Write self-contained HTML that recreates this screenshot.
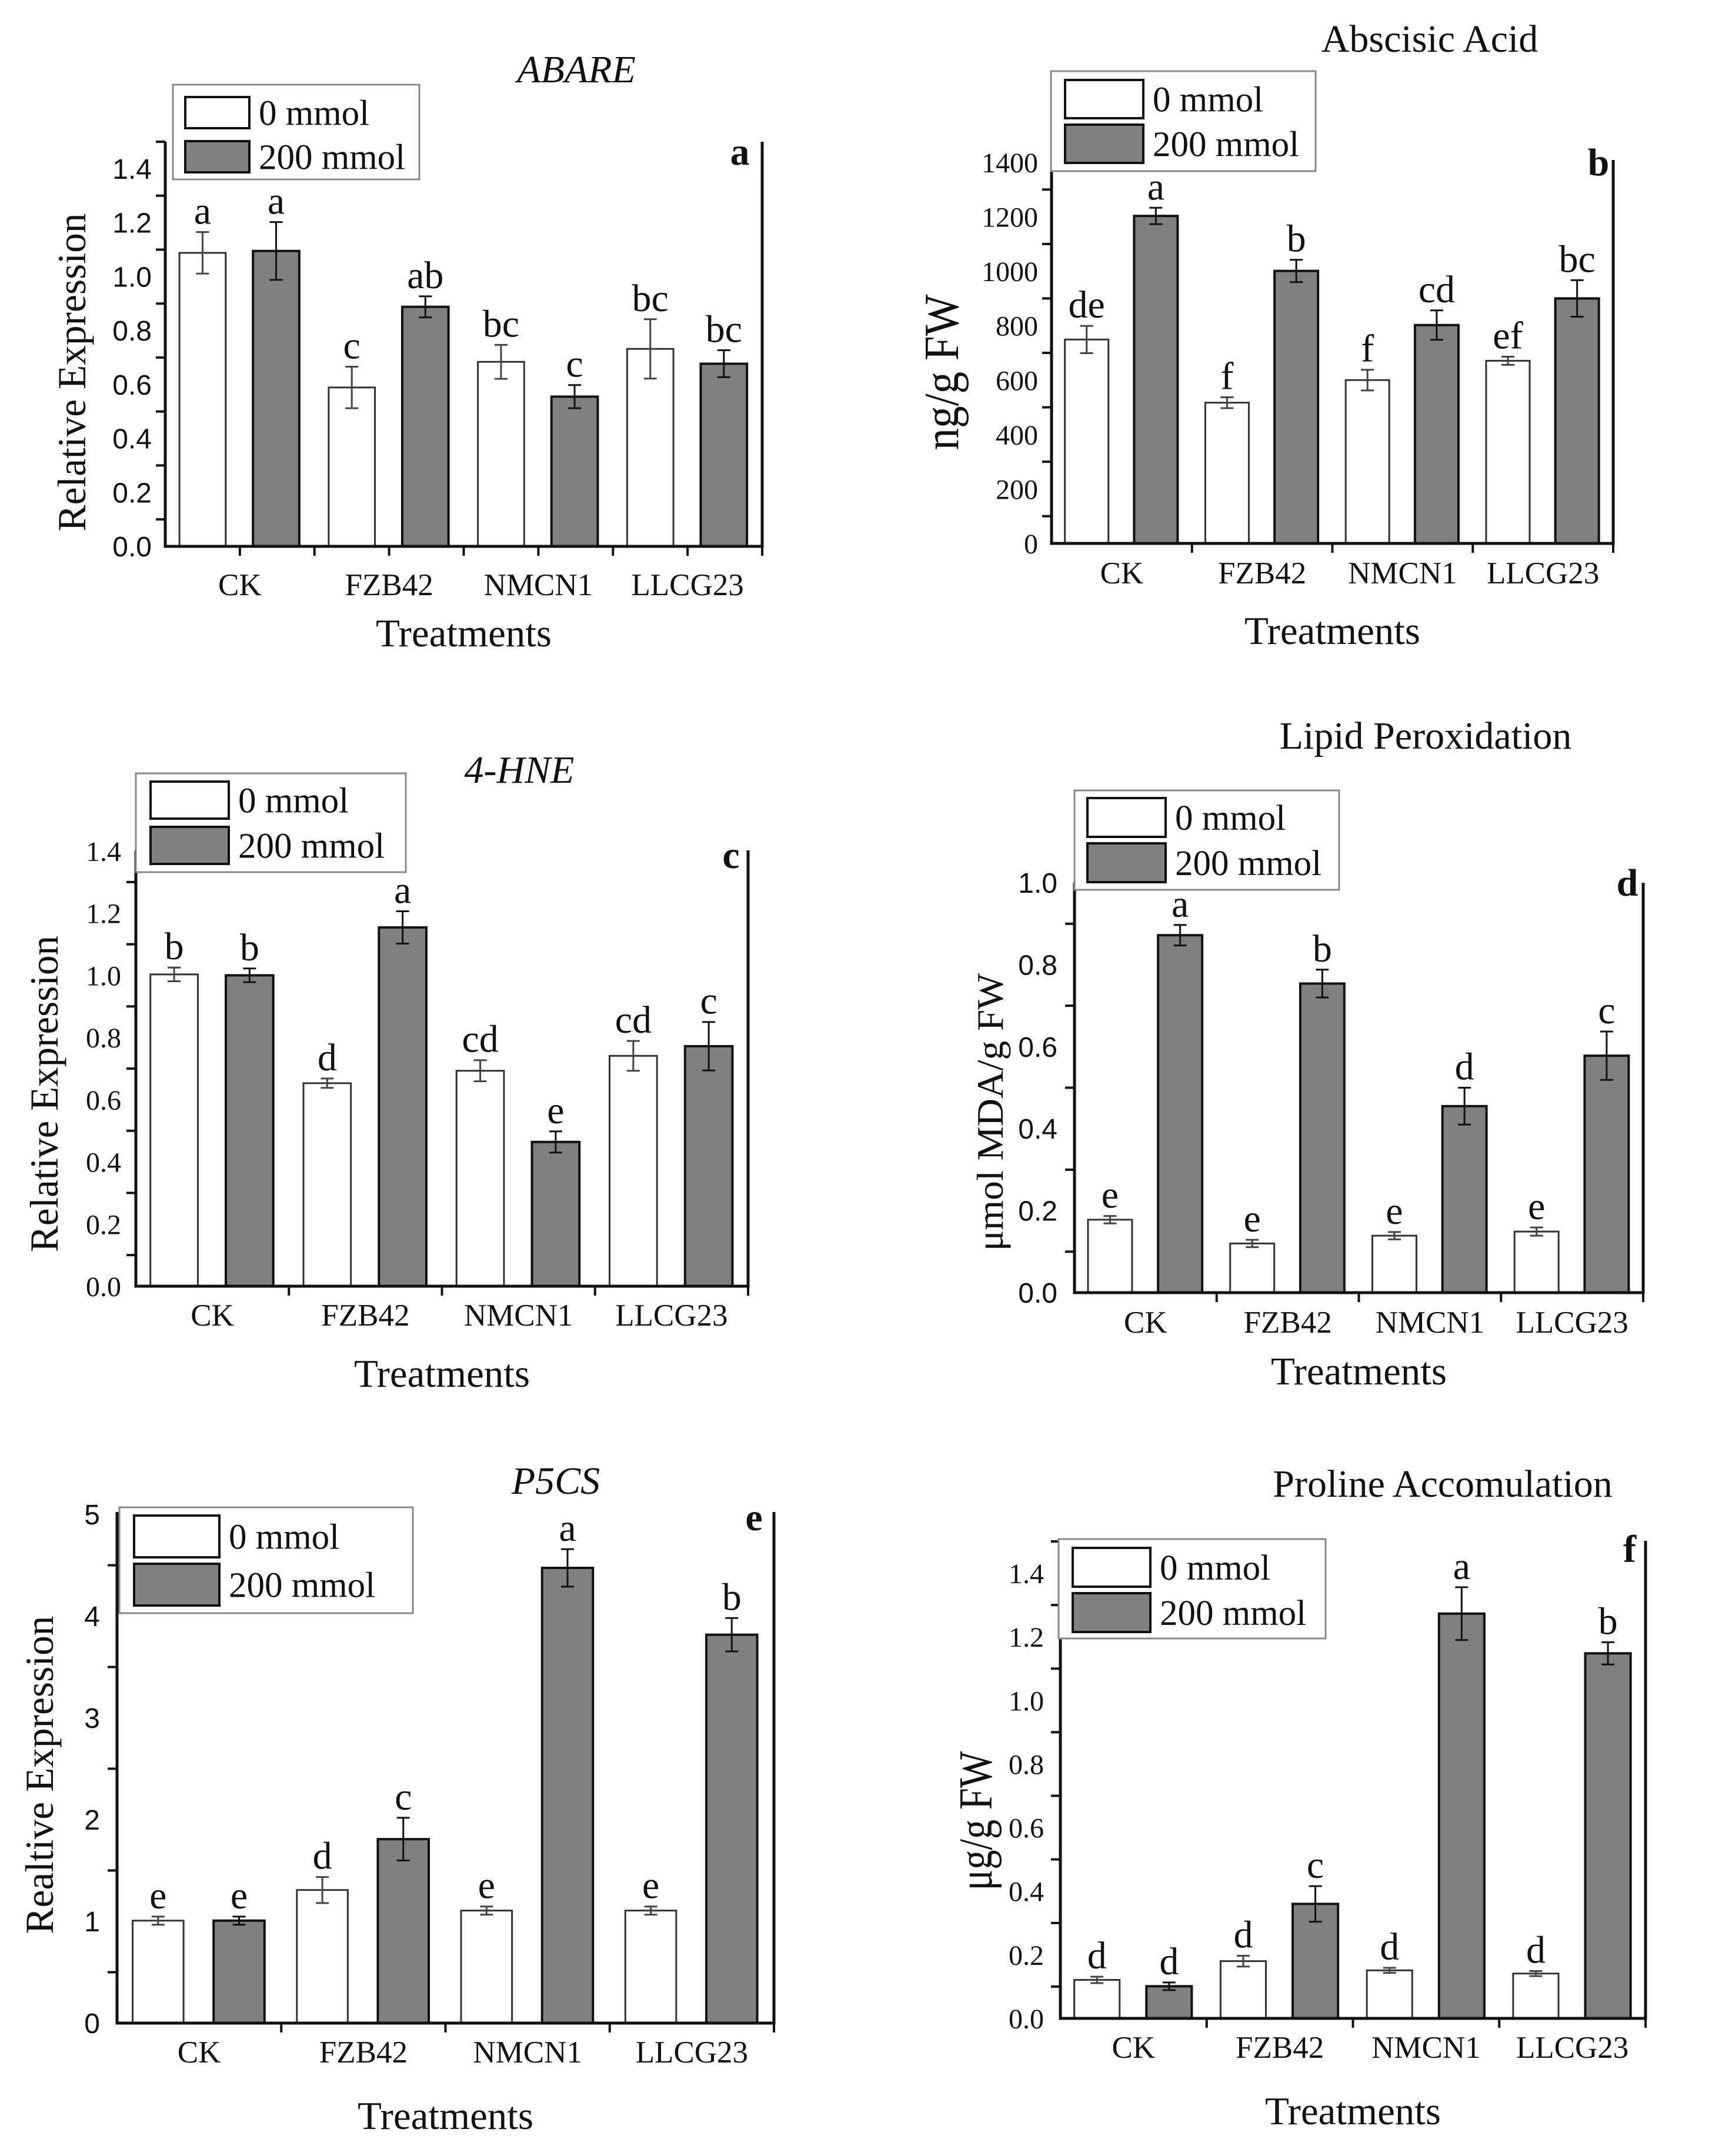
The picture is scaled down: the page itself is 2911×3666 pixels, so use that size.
<!DOCTYPE html>
<html><head><meta charset="utf-8">
<style>
html,body{margin:0;padding:0;background:#fff;}
svg{display:block;}
text{font-family:"Liberation Serif",serif;fill:#111;}
.sans{font-family:"Liberation Sans",sans-serif;}
</style></head>
<body>
<svg id="fig" width="2911" height="3666" viewBox="0 0 2911 3666" xmlns="http://www.w3.org/2000/svg">
<rect width="2911" height="3666" fill="#fff"/>
</svg>
<script>
const categories = ["CK","FZB42","NMCN1","LLCG23"];
const seriesNames = ["0 mmol","200 mmol"];

// Panel a - ABARE
const aWhite = [1.088,0.589,0.684,0.732];
const aWhiteErr = [0.077,0.077,0.063,0.11];
const aGrey = [1.095,0.888,0.555,0.677];
const aGreyErr = [0.107,0.039,0.043,0.05];
const aWhiteLetters = ["a","c","bc","bc"];
const aGreyLetters = ["a","ab","c","bc"];
const aTicks = ["0.0","0.2","0.4","0.6","0.8","1.0","1.2","1.4"];

// Panel b - Abscisic Acid
const bWhite = [749,517,600,671];
const bWhiteErr = [50,20,38,15];
const bGrey = [1203,1001,802,900];
const bGreyErr = [30,41,54,67];
const bWhiteLetters = ["de","f","f","ef"];
const bGreyLetters = ["a","b","cd","bc"];
const bTicks = ["0","200","400","600","800","1000","1200","1400"];

// Panel c - 4-HNE
const cWhite = [1.003,0.653,0.693,0.741];
const cWhiteErr = [0.022,0.015,0.034,0.048];
const cGrey = [1.0,1.154,0.464,0.772];
const cGreyErr = [0.022,0.052,0.034,0.078];
const cWhiteLetters = ["b","d","cd","cd"];
const cGreyLetters = ["b","a","e","c"];
const cTicks = ["0.0","0.2","0.4","0.6","0.8","1.0","1.2","1.4"];

// Panel d - Lipid Peroxidation
const dWhite = [0.178,0.120,0.139,0.149];
const dWhiteErr = [0.009,0.009,0.009,0.01];
const dGrey = [0.872,0.754,0.455,0.578];
const dGreyErr = [0.025,0.034,0.045,0.059];
const dWhiteLetters = ["e","e","e","e"];
const dGreyLetters = ["a","b","d","c"];
const dTicks = ["0.0","0.2","0.4","0.6","0.8","1.0"];

// Panel e - P5CS
const eWhite = [1.007,1.308,1.106,1.106];
const eWhiteErr = [0.04,0.128,0.04,0.04];
const eGrey = [1.007,1.808,4.474,3.817];
const eGreyErr = [0.04,0.21,0.184,0.164];
const eWhiteLetters = ["e","d","e","e"];
const eGreyLetters = ["e","c","a","b"];
const eTicks = ["0","1","2","3","4","5"];

// Panel f - Proline
const fWhite = [0.121,0.180,0.151,0.141];
const fWhiteErr = [0.01,0.017,0.008,0.008];
const fGrey = [0.101,0.36,1.273,1.148];
const fGreyErr = [0.012,0.056,0.083,0.035];
const fWhiteLetters = ["d","d","d","d"];
const fGreyLetters = ["d","c","a","b"];
const fTicks = ["0.0","0.2","0.4","0.6","0.8","1.0","1.2","1.4"];

const NS = "http://www.w3.org/2000/svg";
const svg = document.getElementById("fig");
function mk(tag, attrs, parent){
  const e = document.createElementNS(NS, tag);
  for (const k in attrs) e.setAttribute(k, attrs[k]);
  (parent||svg).appendChild(e);
  return e;
}

function panel(P){
  const g = mk("g", {});
  
  
  const scale = (P.y0 - P.yTop) / P.vmax;
  const yAt = v => P.y0 - v * scale;
  const gw = (P.x1 - P.x0) / 4;
  const bw = gw * 0.31;
  const tickVal = P.tickStep;

  P.ticks.forEach((t, i) => {
    const v = i * tickVal;
    const tl = mk("text", {x: P.labelX, y: yAt(v) + 17, "text-anchor": "end", "font-size": 48, class: P.tickSans ? "sans" : ""}, g);
    tl.textContent = t;
    
    
    const mv = v + tickVal / 2;
    if (mv < P.vmax + 1e-9) {
      const tk = mk("line", {x1: P.x0 - 16, x2: P.x0, y1: yAt(mv), y2: yAt(mv), stroke: "#111", "stroke-width": 4}, g);
      
      
    }
  });

  categories.forEach((c, i) => {
    const gx = P.x0 + i * gw;
    [[P.white, P.whiteErr, P.whiteLetters, 0.095, "#fff", "#333", 3], [P.grey, P.greyErr, P.greyLetters, 0.588, "#808080", "#111", 4]].forEach((s, si) => {
      const v = s[0][i], er = s[1][i];
      const bx = gx + gw * s[3];
      const r = mk("rect", {x: bx, y: yAt(v), width: bw, height: P.y0 - yAt(v), fill: s[4], stroke: s[5], "stroke-width": s[6]}, g);
      
      
      const cx = bx + bw / 2;
      const eb = mk("path", {d: `M${cx},${yAt(v+er)}V${yAt(v-er)}M${cx-11},${yAt(v+er)}H${cx+11}M${cx-11},${yAt(v-er)}H${cx+11}`, stroke: si ? "#111" : "#444", "stroke-width": 3, fill: "none"}, g);
      
      
      const lt = mk("text", {x: cx, y: yAt(v + er) - 14, "text-anchor": "middle", "font-size": 66}, g);
      lt.textContent = s[2][i];
      
      
    });
    const cl = mk("text", {x: gx + gw / 2, y: P.catY, "text-anchor": "middle", "font-size": 53}, g);
    cl.textContent = c;
    
    
    if (i > 0) {
      const xt = mk("line", {x1: gx, x2: gx, y1: P.y0, y2: P.y0 + 16, stroke: "#111", "stroke-width": 4}, g);
      
      
    }
    if (P.centerTicks) {
      const xt2 = mk("line", {x1: gx + gw / 2, x2: gx + gw / 2, y1: P.y0, y2: P.y0 + 16, stroke: "#111", "stroke-width": 4}, g);
      
      
    }
  });

  const ax = mk("path", {d: `M${P.x0},${P.axisTop}V${P.y0}H${P.x1}V${P.axisTop}`, stroke: "#111", "stroke-width": 5, fill: "none"}, g);
  
  
  const et = mk("line", {x1: P.x1, x2: P.x1, y1: P.y0, y2: P.y0 + 16, stroke: "#111", "stroke-width": 4}, g);
  
  

  const L = P.legend;
  const lb = mk("rect", {x: L[0], y: L[1], width: L[2] - L[0], height: L[3] - L[1], fill: "#fff", stroke: "#888", "stroke-width": 3}, g);
  
  
  const sw = P.swatch;
  [[sw[2], "#fff"], [sw[3], "#808080"]].forEach((s, k) => {
    const r = mk("rect", {x: sw[0], y: s[0], width: sw[1] - sw[0], height: sw[4], fill: s[1], stroke: "#111", "stroke-width": 4}, g);
    
    
    const t = mk("text", {x: sw[1] + 16, y: s[0] + sw[4] / 2 + 21, "font-size": 61}, g);
    t.textContent = seriesNames[k];
    
    
  });

  const tt = mk("text", {x: P.title[1], y: P.title[2], "text-anchor": "middle", "font-size": 66, "font-style": P.italic ? "italic" : "normal"}, g);
  tt.textContent = P.title[0];
  
  
  const pl = mk("text", {x: P.plet[0], y: P.plet[1], "text-anchor": "middle", "font-size": 66, "font-weight": "bold"}, g);
  pl.textContent = P.id;
  
  

  const xt = mk("text", {x: (P.x0 + P.x1) / 2, y: P.xTitleY, "text-anchor": "middle", "font-size": 67}, g);
  xt.textContent = "Treatments";
  
  
  const yt = mk("text", {x: 0, y: 0, "text-anchor": "middle", "font-size": P.ylab[4], textLength: P.ylab[3], lengthAdjust: "spacingAndGlyphs", transform: `translate(${P.ylab[1]},${P.ylab[2]}) rotate(-90)`}, g);
  yt.textContent = P.ylab[0];
  
  
}

panel({id:"a", x0:281, x1:1296, y0:929, yTop:241, vmax:1.5, axisTop:241, tickStep:0.2, ticks:aTicks, labelX:258, tickSans:true, centerTicks:true,
  white:aWhite, whiteErr:aWhiteErr, grey:aGrey, greyErr:aGreyErr, whiteLetters:aWhiteLetters, greyLetters:aGreyLetters,
  legend:[294,144,713,305], swatch:[315,424,165,240,53], title:["ABARE",980,140], italic:true, plet:[1258,280],
  catY:1012, xTitleY:1099, ylab:["Relative Expression",145,633,541,68]});

panel({id:"b", x0:1788, x1:2743, y0:924, yTop:276, vmax:1400, axisTop:272, tickStep:200, ticks:bTicks, labelX:1765, tickSans:false,
  white:bWhite, whiteErr:bWhiteErr, grey:bGrey, greyErr:bGreyErr, whiteLetters:bWhiteLetters, greyLetters:bGreyLetters,
  legend:[1787,121,2237,291], swatch:[1811,1944,136,212,65], title:["Abscisic Acid",2431,88], italic:false, plet:[2718,298],
  catY:992, xTitleY:1095, ylab:["ng/g FW",1629,633,265,84]});

panel({id:"c", x0:231, x1:1272, y0:2187, yTop:1447, vmax:1.4, axisTop:1446, tickStep:0.2, ticks:cTicks, labelX:206, tickSans:false,
  white:cWhite, whiteErr:cWhiteErr, grey:cGrey, greyErr:cGreyErr, whiteLetters:cWhiteLetters, greyLetters:cGreyLetters,
  legend:[231,1315,690,1483], swatch:[256,389,1329,1406,63], title:["4-HNE",883,1331], italic:true, plet:[1243,1476],
  catY:2254, xTitleY:2358, ylab:["Relative Expression",98,1860,538,68]});

panel({id:"d", x0:1827, x1:2794, y0:2198, yTop:1501, vmax:1.0, axisTop:1501, tickStep:0.2, ticks:dTicks, labelX:1798, tickSans:true,
  white:dWhite, whiteErr:dWhiteErr, grey:dGrey, greyErr:dGreyErr, whiteLetters:dWhiteLetters, greyLetters:dGreyLetters,
  legend:[1827,1344,2277,1513], swatch:[1849,1982,1357,1434,66], title:["Lipid Peroxidation",2424,1273], italic:false, plet:[2767,1523],
  catY:2266, xTitleY:2354, ylab:["\u03bcmol MDA/g FW",1705,1891,472,64]});

panel({id:"e", x0:199, x1:1316, y0:3440, yTop:2575, vmax:5, axisTop:2571, tickStep:1, ticks:eTicks, labelX:170, tickSans:true,
  white:eWhite, whiteErr:eWhiteErr, grey:eGrey, greyErr:eGreyErr, whiteLetters:eWhiteLetters, greyLetters:eGreyLetters,
  legend:[203,2563,702,2743], swatch:[228,373,2577,2659,71], title:["P5CS",945,2540], italic:true, plet:[1282,2602],
  catY:3507, xTitleY:3620, ylab:["Realtive Expression",90,3018,541,68]});

panel({id:"f", x0:1803, x1:2798, y0:3432, yTop:2621, vmax:1.5, axisTop:2620, tickStep:0.2, ticks:fTicks, labelX:1775, tickSans:false,
  white:fWhite, whiteErr:fWhiteErr, grey:fGrey, greyErr:fGreyErr, whiteLetters:fWhiteLetters, greyLetters:fGreyLetters,
  legend:[1800,2617,2254,2786], swatch:[1824,1956,2632,2709,66], title:["Proline Accomulation",2453,2545], italic:false, plet:[2771,2656],
  catY:3499, xTitleY:3612, ylab:["\u03bcg/g FW",1686,3096,237,80]});
</script>
</body></html>
